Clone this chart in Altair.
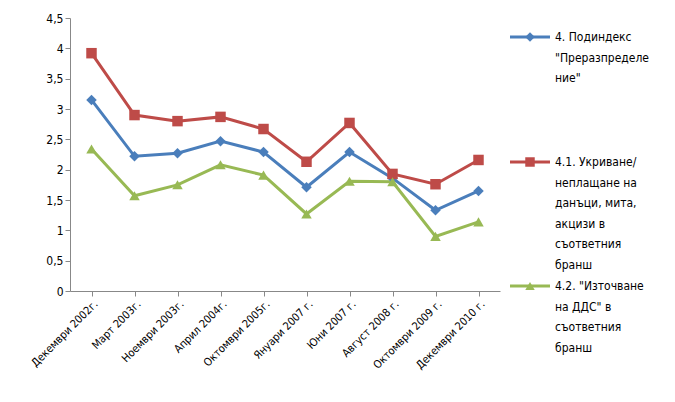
import altair as alt
import pandas as pd

periods = ["Декември 2002г.", "Март 2003г.", "Ноември 2003г.", "Април 2004г.",
           "Октомври 2005г.", "Януари 2007 г.", "Юни 2007 г.", "Август 2008 г.",
           "Октомври 2009 г.", "Декември 2010 г."]
s1 = [3.15, 2.22, 2.27, 2.47, 2.29, 1.71, 2.29, 1.86, 1.33, 1.65]
s2 = [3.92, 2.90, 2.80, 2.87, 2.67, 2.13, 2.77, 1.93, 1.76, 2.16]
s3 = [2.34, 1.57, 1.75, 2.08, 1.91, 1.27, 1.81, 1.80, 0.90, 1.14]
names = ["s1", "s2", "s3"]
labels = [
    ["4. Подиндекс", "\"Преразпределе", "ние\""],
    ["4.1. Укриване/", "неплащане на", "данъци, мита,", "акцизи в", "съответния", "бранш"],
    ["4.2. \"Източване", "на ДДС\" в", "съответния", "бранш"],
]
colors = ["#4a7ebb", "#be4b48", "#98b954"]
shapes = ["diamond", "square", "triangle-up"]

rows = []
for n, vals in zip(names, [s1, s2, s3]):
    for p, v in zip(periods, vals):
        rows.append({"period": p, "series": n, "value": v})
df = pd.DataFrame(rows)

font = "DejaVu Sans Condensed"
color = alt.Color("series:N", scale=alt.Scale(domain=names, range=colors), legend=None)
shape = alt.Shape("series:N", scale=alt.Scale(domain=names, range=shapes), legend=None)

base = alt.Chart(df).encode(
    x=alt.X("period:N", sort=periods, title=None,
            scale=alt.Scale(type="point", padding=0.5),
            axis=alt.Axis(labelAngle=-45, labelFontSize=11, labelColor="#000",
                          domainColor="#888", tickColor="#888", labelFont=font)),
    y=alt.Y("value:Q", title=None, scale=alt.Scale(domain=[0, 4.5]),
            axis=alt.Axis(values=[0, 0.5, 1, 1.5, 2, 2.5, 3, 3.5, 4, 4.5], grid=False,
                          labelExpr="replace(format(datum.value, '.1~f'), '.', ',')",
                          labelFontSize=12, labelColor="#000", labelFont=font,
                          domainColor="#888", tickColor="#888")),
    color=color,
)
lines = base.mark_line(strokeWidth=3)
pts = base.mark_point(filled=True, size=110, opacity=1).encode(shape=shape)
main = (lines + pts).properties(width=430, height=273)

leg_rows = []
for i, n in enumerate(names):
    leg_rows.append({"series": n, "y": [19, 144, 268][i], "label": labels[i]})
ldf = pd.DataFrame(leg_rows)
lb = alt.Chart(ldf).encode(
    y=alt.Y("y:Q", scale=alt.Scale(domain=[0, 273], reverse=True), axis=None),
    color=color,
)
lsym_line = lb.mark_rule(strokeWidth=3).encode(x=alt.value(0), x2=alt.value(40))
lsym = lb.mark_point(filled=True, size=90, opacity=1).encode(x=alt.value(20), shape=shape)
ltxt = lb.mark_text(align="left", baseline="middle", fontSize=12,
                    font=font, color="#000", lineHeight=20.5).encode(
    x=alt.value(45), text="label", color=alt.value("#000"))
legend = (lsym_line + lsym + ltxt).properties(width=120, height=273)

chart = alt.hconcat(main, legend, spacing=8).properties(
    padding={"left": 20, "top": 4, "right": 5, "bottom": 5}
).configure_view(stroke=None)
chart.save("out.html", embed_options={"renderer": "svg", "actions": False})
